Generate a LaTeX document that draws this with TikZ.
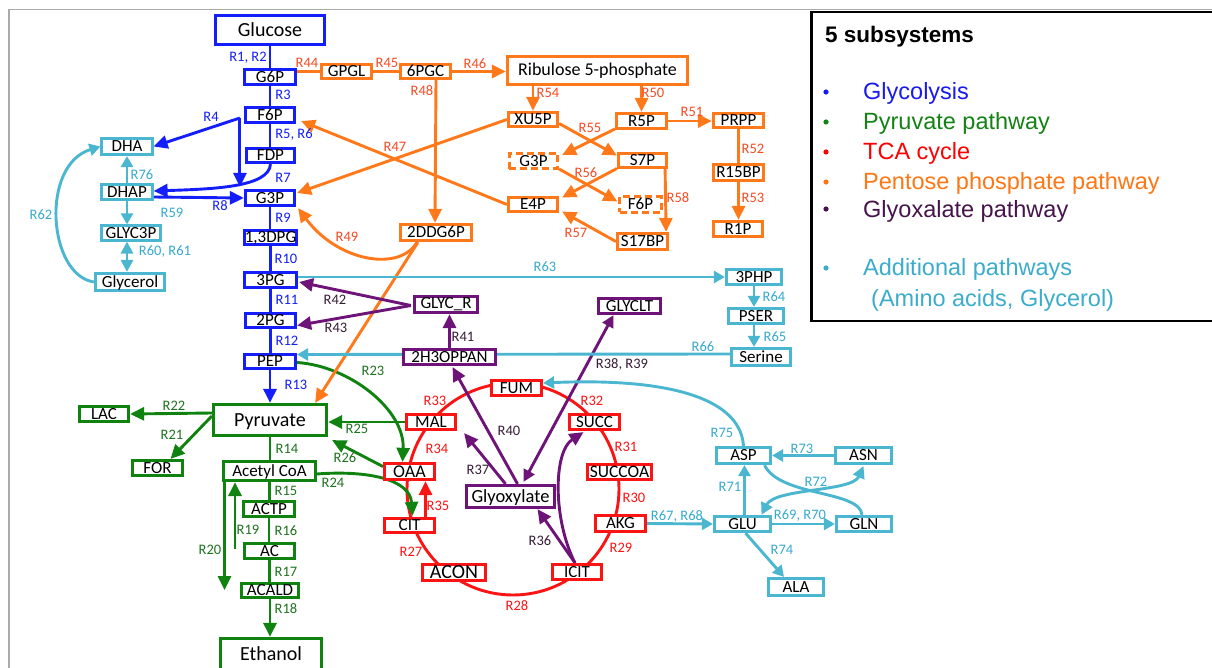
\documentclass[tikz,border=0pt]{standalone}
\usepackage{fontspec}
\setmainfont{Carlito}
\newfontfamily\arialf{Liberation Sans}
\usetikzlibrary{arrows.meta,calc}
\pgfdeclarelayer{back}
\pgfdeclarelayer{background}
\pgfsetlayers{back,background,main}
\definecolor{cbl}{RGB}{20,30,250}
\definecolor{cgr}{RGB}{15,130,15}
\definecolor{cre}{RGB}{250,20,20}
\definecolor{cor}{RGB}{255,120,25}
\definecolor{cpu}{RGB}{110,20,120}
\definecolor{ccy}{RGB}{75,182,208}
\definecolor{lbl}{RGB}{20,30,250}
\definecolor{lgr}{RGB}{30,115,30}
\definecolor{lre}{RGB}{250,20,20}
\definecolor{lor}{RGB}{245,75,35}
\definecolor{lpu}{RGB}{55,30,55}
\definecolor{lcy}{RGB}{55,170,205}
\definecolor{cfr}{RGB}{170,170,170}
\definecolor{lgbl}{RGB}{25,25,240}
\definecolor{lggr}{RGB}{20,130,20}
\definecolor{lgre}{RGB}{255,0,0}
\definecolor{lgor}{RGB}{255,118,20}
\definecolor{lgpu}{RGB}{70,20,75}
\definecolor{lgcy}{RGB}{60,172,205}
\tikzset{
  box/.style={draw, line width=2.7pt, fill=white, inner sep=0pt, text height=11pt, text depth=0.6pt, font=\fontsize{17}{17}\selectfont},
  big/.style={font=\fontsize{20}{20}\selectfont, text height=12.9pt},
  f18/.style={font=\fontsize{18}{18}\selectfont, text height=11.6pt},
  wh/.style 2 args={minimum width=#1pt, minimum height=#2pt},
  bx/.style={box, draw=cbl},
  gx/.style={box, draw=cgr},
  rx/.style={box, draw=cre},
  ox/.style={box, draw=cor},
  px/.style={box, draw=cpu},
  cx/.style={box, draw=ccy},
  dsh/.style={dash pattern=on 7pt off 4pt},
  lab/.style={inner sep=0pt, font=\fontsize{14.5}{14.5}\selectfont},
  lb/.style={lab, text=lbl}, lg/.style={lab, text=lgr}, lr/.style={lab, text=lre},
  lo/.style={lab, text=lor}, lp/.style={lab, text=lpu}, lc/.style={lab, text=lcy},
  con/.style={line width=2.9pt},
  arr/.style={con, -{Triangle[length=14pt,width=13pt]}},
  sarr/.style={con, -{Triangle[length=11pt,width=12pt]}},
  darr/.style={con, {Triangle[length=12pt,width=12pt]}-{Triangle[length=12pt,width=12pt]}},
  leg/.style={inner sep=0pt, font=\arialf\fontsize{23.5}{23.5}\selectfont},
}
\begin{document}
\begin{tikzpicture}[x=1pt,y=-1pt]
\useasboundingbox (0,0) rectangle (1212,668);
\begin{pgfonlayer}{back}\fill[white] (0,0) rectangle (1212,668);\end{pgfonlayer}
\draw[cfr, line width=1.6pt] (9,675) -- (9,9.5) -- (1220,9.5);
% legend
\draw[black, line width=2.2pt] (1220,12) -- (811.5,12) -- (811.5,321) -- (1220,321);
\node[leg, font=\arialf\bfseries\fontsize{22.5}{22.5}\selectfont, anchor=base west] (lt) at (825,43) {5 subsystems};
\fill[lgbl] (826,92) circle (2.6pt);
\fill[lggr] (826,122) circle (2.6pt);
\fill[lgre] (826,152) circle (2.6pt);
\fill[lgor] (826,182) circle (2.6pt);
\fill[lgpu] (826,209) circle (2.6pt);
\fill[lgcy] (826,268) circle (2.6pt);
\node[leg, text=lgbl, anchor=base west] (lg1) at (863,100) {Glycolysis};
\node[leg, text=lggr, anchor=base west] (lg2) at (863,130) {Pyruvate pathway};
\node[leg, text=lgre, anchor=base west] (lg3) at (863,160) {TCA cycle};
\node[leg, text=lgor, anchor=base west] (lg4) at (863,190) {Pentose phosphate pathway};
\node[leg, text=lgpu, anchor=base west] (lg5) at (863,218) {Glyoxalate pathway};
\node[leg, text=lgcy, anchor=base west] (lg6) at (863,276) {Additional pathways};
\node[leg, text=lgcy, anchor=base west] (lg7) at (871,306) {(Amino acids, Glycerol)};

% glycolysis nodes
\node[bx, big, wh={108.5}{29.5}] (Glucose) at (270,30) {Glucose};
\node[bx, wh={50.5}{15.5}] (G6P) at (270,77) {G6P};
\node[bx, wh={49.5}{14.5}] (F6P) at (270,115) {F6P};
\node[bx, wh={48.5}{14.5}] (FDP) at (270.5,155.5) {FDP};
\node[bx, wh={49.5}{15.5}] (G3P) at (270,198) {G3P};
\node[bx, wh={52.5}{14.5}] (DPG13) at (270.5,237.5) {1,3DPG};
\node[bx, wh={52.5}{14.5}] (PG3) at (270.5,280) {3PG};
\node[bx, wh={50.5}{14.5}] (PG2) at (270.5,320.5) {2PG};
\node[bx, wh={51.5}{14.5}] (PEP) at (270,361.5) {PEP};
% pyruvate pathway
\node[gx, big, wh={113.5}{31.5}] (Pyruvate) at (270,420) {Pyruvate};
\node[gx, wh={49.5}{15.5}] (LAC) at (104,414) {LAC};
\node[gx, wh={50.5}{15.5}] (FOR) at (157.5,468) {FOR};
\node[gx, wh={91.5}{19.5}] (AcCoA) at (269.5,471) {Acetyl CoA};
\node[gx, wh={50.5}{15.5}] (ACTP) at (269,509) {ACTP};
\node[gx, wh={50.5}{15.5}] (AC) at (269.5,551) {AC};
\node[gx, wh={57.5}{14.5}] (ACALD) at (270,590.5) {ACALD};
\node[gx, big, wh={101.5}{31.5}] (Ethanol) at (271,654) {Ethanol};
% pentose phosphate
\node[ox, wh={50.5}{14.5}] (GPGL) at (346.5,71.5) {GPGL};
\node[ox, wh={50.5}{14.5}] (PGC6) at (425.5,71.5) {6PGC};
\node[ox, f18, wh={180.5}{28.5}] (Rib) at (597.5,70.5) {Ribulose 5-phosphate};
\node[ox, wh={49.5}{14.5}] (XU5P) at (533,119.5) {XU5P};
\node[ox, wh={50.5}{15.5}] (R5P) at (641.5,121) {R5P};
\node[ox, dsh, wh={48.5}{15.5}] (G3Pd) at (533.5,161) {G3P};
\node[ox, wh={48.5}{14.5}] (S7P) at (642.5,160.5) {S7P};
\node[ox, wh={49.5}{14.5}] (E4P) at (533,204.5) {E4P};
\node[ox, dsh, wh={41.5}{15.5}] (F6Pd) at (640.5,204.5) {F6P};
\node[ox, wh={50.5}{16.5}] (S17BP) at (642.5,241.5) {S17BP};
\node[ox, wh={71.5}{16.5}] (DDG6P) at (436,232.5) {2DDG6P};
\node[ox, wh={50.5}{14.5}] (PRPP) at (738.5,120.5) {PRPP};
\node[ox, wh={50.5}{16.5}] (R15BP) at (738.5,172.5) {R15BP};
\node[ox, wh={49.5}{15.5}] (R1P) at (738,229) {R1P};
% glyoxalate
\node[px, text depth=3pt, wh={63.5}{16.5}] (GLYCR) at (446,304.5) {GLYC\_R};
\node[px, wh={62.5}{15.5}] (GLYCLT) at (629.5,306) {GLYCLT};
\node[px, wh={92.5}{15.5}] (H3OPPAN) at (449.5,357) {2H3OPPAN};
\node[px, font=\fontsize{18.5}{18.5}\selectfont, text height=11.9pt, wh={88.5}{22.5}] (Glyoxylate) at (510.5,496.5) {Glyoxylate};
% TCA
\node[rx, wh={50.5}{15.5}] (FUM) at (516.5,388) {FUM};
\node[rx, wh={49.5}{15.5}] (MAL) at (431,422) {MAL};
\node[rx, wh={50.5}{15.5}] (SUCC) at (594.5,422) {SUCC};
\node[rx, f18, wh={50.5}{16.5}] (OAA) at (409.5,471.5) {OAA};
\node[rx, wh={50.5}{14.5}] (CIT) at (409.5,525.5) {CIT};
\node[rx, big, wh={63.5}{16.5}] (ACON) at (454,572.5) {ACON};
\node[rx, wh={49.5}{15.5}] (ICIT) at (577,572) {ICIT};
\node[rx, font=\fontsize{17.5}{17.5}\selectfont, text height=11.3pt, wh={64.5}{15.5}] (SUCCOA) at (619.5,472) {SUCCOA};
\node[rx, wh={50.5}{16.5}] (AKG) at (620.5,523.5) {AKG};
% additional
\node[cx, wh={50.5}{16.5}] (DHA) at (127,146.5) {DHA};
\node[cx, wh={50.5}{15.5}] (DHAP) at (127,192) {DHAP};
\node[cx, wh={58.5}{14.5}] (GLYC3P) at (131,233) {GLYC3P};
\node[cx, wh={69.5}{17.5}] (Glycerol) at (130,282) {Glycerol};
\node[cx, wh={55.5}{15.5}] (PHP3) at (754,277) {3PHP};
\node[cx, wh={55.5}{15.5}] (PSER) at (756,316) {PSER};
\node[cx, wh={59.5}{17.5}] (Serine) at (761,357) {Serine};
\node[cx, wh={54.5}{16.5}] (ASP) at (743.5,455.5) {ASP};
\node[cx, wh={56.5}{16.5}] (ASN) at (863.5,455.5) {ASN};
\node[cx, wh={56.5}{15.5}] (GLU) at (742.5,524) {GLU};
\node[cx, wh={55.5}{15.5}] (GLN) at (864,524) {GLN};
\node[cx, wh={55.5}{17.5}] (ALA) at (796,587) {ALA};

% labels
\node[lb] (t1) at (248,58) {R1, R2};
\node[lb] (t3) at (283,95) {R3};
\node[lb] (t4) at (211,117) {R4};
\node[lb] (t5) at (294,135) {R5, R6};
\node[lb] (t7) at (283,178) {R7};
\node[lb] (t8) at (220,206) {R8};
\node[lb] (t9) at (283,218) {R9};
\node[lb] (t10) at (286,259) {R10};
\node[lb] (t11) at (287,300) {R11};
\node[lb] (t12) at (287,341) {R12};
\node[lb] (t13) at (296,385) {R13};
\node[lg] (t14) at (287,449) {R14};
\node[lg] (t15) at (286,491) {R15};
\node[lg] (t16) at (286,531) {R16};
\node[lg] (t17) at (286,572) {R17};
\node[lg] (t18) at (286,609) {R18};
\node[lg] (t19) at (248,530) {R19};
\node[lg] (t20) at (210,550) {R20};
\node[lg] (t21) at (172,435) {R21};
\node[lg] (t22) at (174,406) {R22};
\node[lg] (t23) at (373,371) {R23};
\node[lg] (t24) at (333,483) {R24};
\node[lg] (t25) at (357,429) {R25};
\node[lg] (t26) at (345,458) {R26};
\node[lr] (t27) at (411,552) {R27};
\node[lr] (t28) at (517,606) {R28};
\node[lr] (t29) at (621,548) {R29};
\node[lr] (t30) at (634,498) {R30};
\node[lr] (t31) at (626,447) {R31};
\node[lr] (t32) at (592,401) {R32};
\node[lr] (t33) at (435,401) {R33};
\node[lr] (t34) at (437,449) {R34};
\node[lr] (t35) at (438,506) {R35};
\node[lp] (t36) at (540,541) {R36};
\node[lp] (t37) at (478,470) {R37};
\node[lp] (t38) at (622,364) {R38, R39};
\node[lp] (t40) at (509,431) {R40};
\node[lp] (t41) at (463,337) {R41};
\node[lp] (t42) at (335,300) {R42};
\node[lp] (t43) at (336,328) {R43};
\node[lo] (t44) at (307,63) {R44};
\node[lo] (t45) at (387,63) {R45};
\node[lo] (t46) at (475,64) {R46};
\node[lo] (t47) at (395,147) {R47};
\node[lo] (t48) at (422,91) {R48};
\node[lo] (t49) at (347,237) {R49};
\node[lo] (t50) at (653,93) {R50};
\node[lo] (t51) at (692,112) {R51};
\node[lo] (t52) at (753,149) {R52};
\node[lo] (t53) at (753,198) {R53};
\node[lo] (t54) at (548,93) {R54};
\node[lo] (t55) at (590,128) {R55};
\node[lo] (t56) at (586,173) {R56};
\node[lo] (t57) at (576,233) {R57};
\node[lo] (t58) at (678,198) {R58};
\node[lc] (t59) at (172,213) {R59};
\node[lc] (t60) at (165,252) {R60, R61};
\node[lc] (t62) at (41,215) {R62};
\node[lc] (t63) at (545,267) {R63};
\node[lc] (t64) at (774,297) {R64};
\node[lc] (t65) at (775,337) {R65};
\node[lc] (t66) at (703,347) {R66};
\node[lc] (t67) at (677,516) {R67, R68};
\node[lc] (t69) at (800,516) {R69, R70};
\node[lc] (t71) at (730,487) {R71};
\node[lc] (t72) at (816,482) {R72};
\node[lc] (t73) at (802,449) {R73};
\node[lc] (t74) at (782,550) {R74};
\node[lc] (t75) at (722,433) {R75};
\node[lc] (t76) at (142,175) {R76};

\coordinate (r20end) at (224.5,590);
\coordinate (r19start) at (235,549);

\begin{pgfonlayer}{background}
% TCA cycle
\draw[con, cre] (513,489) circle [radius=106pt];
\draw[arr, cre] ($(CIT.north)+(16,0)$) -- ($(OAA.south)+(16,0)$);
% glycolysis
\draw[con,cbl] (Glucose.south) -- (Glucose.south |- G6P.north);
\draw[con,cbl] (G6P.south) -- (G6P.south |- F6P.north);
\draw[con,cbl] (F6P.south) -- (F6P.south |- FDP.north);
\draw[arr,cbl] (FDP.south) .. controls (269,187) and (215,189) .. ($(DHAP.east)+(0,-1)$);
\draw[arr,cbl] ($(DHAP.east)+(0,5)$) -- (G3P.west);
\draw[arr,cbl] ($(F6P.west)+(-4,3)$) -- ($(G3P.north west)+(-4,-2)$);
\draw[arr,cbl] ($(F6P.west)+(-4,3)$) -- (DHA.east);
\draw[con,cbl] (G3P.south) -- (G3P.south |- DPG13.north);
\draw[con,cbl] (DPG13.south) -- (DPG13.south |- PG3.north);
\draw[con,cbl] (PG3.south) -- (PG3.south |- PG2.north);
\draw[con,cbl] (PG2.south) -- (PG2.south |- PEP.north);
\draw[arr,cbl] (PEP.south) -- (PEP.south |- Pyruvate.north);
% pyruvate pathway
\draw[arr,cgr] ($(Pyruvate.west)+(0,-7)$) -- (LAC.east);
\draw[arr,cgr] ($(Pyruvate.west)+(0,-4)$) -- ($(FOR.north)+(13,0)$);
\draw[con,cgr] (Pyruvate.south) -- (Pyruvate.south |- AcCoA.north);
\draw[con,cgr] (AcCoA.south) -- (AcCoA.south |- ACTP.north);
\draw[con,cgr] (ACTP.south) -- (ACTP.south |- AC.north);
\draw[con,cgr] (AC.south) -- (AC.south |- ACALD.north);
\draw[arr,cgr] (ACALD.south) -- (ACALD.south |- Ethanol.north);
\draw[arr,cgr] (AcCoA.south west -| r20end) -- (r20end);
\draw[arr,cgr] (r19start) -- (r19start |- AcCoA.south);
\draw[arr,cgr] ($(PEP.east)+(0,1)$) .. controls (350,366) and (405,410) .. ($(OAA.north)+(-7,0)$);
\draw[arr,cgr] (MAL.west) -- (Pyruvate.east |- MAL.west);
\draw[arr,cgr] ($(OAA.west)+(0,-5)$) -- ($(Pyruvate.south east)+(4,3)$);
\draw[arr,cgr] ($(AcCoA.east)+(0,3)$) .. controls (370,470) and (410,480) .. ($(CIT.north)+(3,-1)$);
% pentose phosphate
\draw[con,cor] (GPGL.west -| G6P.east) -- (GPGL.west);
\draw[con,cor] (GPGL.east) -- (PGC6.west);
\draw[arr,cor] (PGC6.east) -- (PGC6.east -| Rib.west);
\draw[arr,cor] (PGC6.south -| DDG6P.north) -- ($(DDG6P.north)+(-1,0)$);
\draw[arr,cor] (XU5P.north |- Rib.south) -- (XU5P.north);
\draw[arr,cor] (R5P.north |- Rib.south) -- (R5P.north);
\draw[arr,cor] (R5P.east) -- (R5P.east -| PRPP.west);
\draw[con,cor] (PRPP.south) -- (PRPP.south |- R15BP.north);
\draw[arr,cor] (R15BP.south) -- (R15BP.south |- R1P.north);
\draw[arr,cor] (XU5P.west) -- ($(G3P.east)+(1,-5)$);
\draw[arr,cor] (E4P.west) -- ($(F6P.east)+(5,6)$);
\draw[arr,cor] ($(XU5P.east)+(0,4)$) -- ($(S7P.west)+(0,-5)$);
\draw[arr,cor] ($(R5P.west)+(0,8)$) -- ($(G3Pd.east)+(3,-6)$);
\draw[arr,cor] ($(S7P.west)+(0,8)$) -- ($(E4P.east)+(3,-7)$);
\draw[arr,cor] ($(G3Pd.east)+(0,8)$) -- ($(F6Pd.west)+(-1,-3)$);
\draw[arr,cor] ($(S7P.south east)+(-3,0)$) -- ($(S17BP.north east)+(-3,0)$);
\draw[arr,cor] (S17BP.west) -- ($(E4P.east)+(3,7)$);
\draw[arr,cor] ($(DDG6P.south)+(-19,0)$) .. controls (400,272) and (338,262) .. ($(G3P.south east)+(2,1)$);
\draw[arr,cor] ($(DDG6P.south)+(-18,0)$) -- ($(Pyruvate.north east)+(-13,0)$);
% glyoxalate
\draw[arr,cpu] ($(GLYCR.west)+(-2,1)$) -- ($(PG3.east)+(1,2)$);
\draw[arr,cpu] ($(GLYCR.west)+(-2,1)$) -- ($(PG2.east)+(0,5)$);
\draw[arr,cpu] (H3OPPAN.north) -- (H3OPPAN.north |- GLYCR.south);
\draw[arr,cpu] ($(Glyoxylate.north)+(7,0)$) -- ($(H3OPPAN.south)+(3,1)$);
\draw[arr,cpu] ($(Glyoxylate.north)+(-5,0)$) -- ($(MAL.south east)+(7,2)$);
\draw[darr,cpu] ($(Glyoxylate.north)+(13,-2)$) -- ($(GLYCLT.south)+(-16,0)$);
\draw[arr,cpu] ($(ICIT.north)+(-2,0)$) -- ($(Glyoxylate.south)+(27,0)$);
\draw[arr,cpu] ($(ICIT.north)+(-2,0)$) .. controls (553,520) and (553,452) .. ($(SUCC.south)+(-11,1)$);
% additional
\draw[sarr,ccy] (DHAP.north) -- (DHAP.north |- DHA.south);
\draw[sarr,ccy] (DHAP.south) -- (DHAP.south |- GLYC3P.north);
\draw[darr,ccy] (DHAP.south |- GLYC3P.south) -- (DHAP.south |- Glycerol.north);
\draw[sarr,ccy] (Glycerol.west) .. controls (48,275) and (40,165) .. (DHA.west);
\draw[sarr,ccy] ($(PG3.east)+(0,-3)$) -- (PHP3.west);
\draw[sarr,ccy] (PHP3.south) -- (PHP3.south |- PSER.north);
\draw[sarr,ccy] ($(PSER.south)+(-2,0)$) -- ($(PSER.south |- Serine.north)+(-2,0)$);
\draw[sarr,ccy] ($(Serine.west)+(0,-3)$) -- ($(PEP.east)+(0,-7)$);
\draw[sarr,ccy] (AKG.east) -- (GLU.west);
\draw[sarr,ccy] ($(GLU.north)+(2,0)$) -- ($(GLU.north |- ASP.south)+(2,0)$);
\draw[sarr,ccy] (ASN.west) -- (ASP.east);
\draw[sarr,ccy] (GLU.east) -- (GLN.west);
\draw[sarr,ccy] ($(GLU.south)+(3,0)$) -- ($(ALA.north)+(-12,0)$);
\draw[con,ccy] ($(ASP.south)+(21,0)$) .. controls (780,497) and (860,490) .. ($(GLN.north)+(-2,0)$);
\draw[darr,ccy] ($(GLU.north)+(19,0)$) .. controls (775,488) and (852,492) .. ($(ASN.south)+(0,1)$);
\draw[sarr,ccy] (ASP.north) .. controls (740,395) and (660,378) .. ($(FUM.east)+(0,-5)$);
\end{pgfonlayer}
\end{tikzpicture}
\end{document}
